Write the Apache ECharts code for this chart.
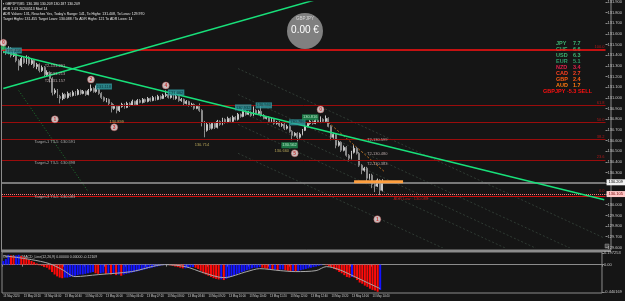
<!DOCTYPE html>
<html>
<head>
<meta charset="utf-8">
<script src="https://cdn.jsdelivr.net/npm/echarts@6/dist/echarts.min.js"></script>
<style>
html, body { margin: 0; padding: 0; background: #151515; }
#chart { width: 625px; height: 301px; }
</style>
</head>
<body>
<div id="chart"></div>
<script>
// GBPJPY M5 candles: [open, close, low, high]
const candles = [
  [131.473,131.445,131.420,131.500],[131.445,131.426,131.405,131.465],[131.426,131.463,131.410,131.485],
  [131.463,131.398,131.380,131.478],[131.398,131.417,131.385,131.440],[131.417,131.351,131.335,131.430],
  [131.351,131.305,131.258,131.365],[131.305,131.370,131.290,131.385],[131.370,131.333,131.320,131.390],
  [131.333,131.379,131.320,131.400],[131.379,131.323,131.305,131.392],[131.323,131.351,131.310,131.370],
  [131.351,131.295,131.280,131.365],[131.295,131.314,131.270,131.330],[131.314,131.258,131.240,131.325],
  [131.258,131.286,131.245,131.305],[131.286,131.220,131.200,131.300],[131.220,131.239,131.205,131.260],
  [131.239,131.183,131.146,131.250],[131.183,131.052,131.024,131.195],[131.052,131.071,131.035,131.090],
  [131.071,131.015,131.000,131.085],[131.015,130.996,130.949,131.030],[130.996,131.033,130.980,131.050],
  [131.033,131.005,130.990,131.045],[131.005,131.043,130.995,131.060],[131.043,131.024,131.010,131.055],
  [131.024,131.052,131.015,131.070],[131.052,131.033,131.020,131.065],[131.033,131.071,131.025,131.085],
  [131.071,131.043,131.030,131.080],[131.043,131.062,131.035,131.075],[131.062,131.033,131.020,131.070],
  [131.033,131.071,131.025,131.085],[131.071,131.090,131.060,131.127],[131.090,131.062,131.050,131.100],
  [131.062,131.080,131.050,131.118],[131.080,131.043,131.030,131.095],[131.043,131.005,130.990,131.055],
  [131.005,130.977,130.965,131.015],[130.977,130.987,130.960,131.000],[130.987,130.949,130.935,130.995],
  [130.949,130.903,130.865,130.960],[130.903,130.921,130.890,130.940],[130.921,130.884,130.856,130.930],
  [130.884,130.921,130.870,130.935],[130.921,130.940,130.910,130.955],[130.940,130.912,130.900,130.950],
  [130.912,130.949,130.905,130.965],[130.949,130.931,130.920,130.960],[130.931,130.968,130.925,130.985],
  [130.968,130.940,130.930,130.975],[130.940,130.977,130.935,130.990],[130.977,130.959,130.950,130.990],
  [130.959,130.987,130.950,131.000],[130.987,130.968,130.955,130.995],[130.968,130.996,130.960,131.010],
  [130.996,130.977,130.965,131.005],[130.977,131.005,130.970,131.020],[131.005,130.987,130.975,131.015],
  [130.987,131.015,130.980,131.030],[131.015,130.996,130.985,131.025],[130.996,131.024,130.990,131.040],
  [131.024,131.033,131.010,131.071],[131.033,131.005,130.995,131.045],[131.005,131.024,130.995,131.040],
  [131.024,130.996,130.985,131.035],[130.996,131.015,130.985,131.052],[131.015,130.977,130.965,131.025],
  [130.977,130.987,130.965,131.000],[130.987,130.949,130.935,130.995],[130.949,130.968,130.940,130.980],
  [130.968,130.931,130.920,130.975],[130.931,130.940,130.920,130.955],[130.940,130.903,130.890,130.950],
  [130.903,130.921,130.895,130.935],[130.921,130.884,130.870,130.949],[130.884,130.772,130.734,130.895],
  [130.772,130.697,130.632,130.785],[130.697,130.753,130.685,130.770],[130.753,130.716,130.700,130.765],
  [130.716,130.762,130.705,130.775],[130.762,130.725,130.710,130.770],[130.725,130.781,130.715,130.795],
  [130.781,130.753,130.740,130.790],[130.753,130.800,130.745,130.815],[130.800,130.772,130.760,130.810],
  [130.772,130.809,130.765,130.825],[130.809,130.781,130.770,130.820],[130.781,130.819,130.775,130.835],
  [130.819,130.800,130.790,130.830],[130.800,130.847,130.790,130.860],[130.847,130.828,130.815,130.855],
  [130.828,130.875,130.820,130.912],[130.875,130.847,130.835,130.885],[130.847,130.865,130.840,130.880],
  [130.865,130.837,130.825,130.875],[130.837,130.884,130.830,130.921],[130.884,130.856,130.845,130.895],
  [130.856,130.875,130.850,130.890],[130.875,130.837,130.825,130.931],[130.837,130.809,130.800,130.850],
  [130.809,130.819,130.800,130.830],[130.819,130.781,130.770,130.830],[130.781,130.800,130.775,130.815],
  [130.800,130.762,130.750,130.810],[130.762,130.772,130.750,130.785],[130.772,130.744,130.730,130.785],
  [130.744,130.753,130.730,130.765],[130.753,130.716,130.700,130.765],[130.716,130.734,130.705,130.750],
  [130.734,130.688,130.675,130.745],[130.688,130.650,130.604,130.700],[130.650,130.669,130.640,130.680],
  [130.669,130.632,130.594,130.680],[130.632,130.660,130.620,130.675],[130.660,130.697,130.650,130.710],
  [130.697,130.734,130.690,130.750],[130.734,130.762,130.725,130.775],[130.762,130.781,130.750,130.795],
  [130.781,130.762,130.750,130.790],[130.762,130.791,130.755,130.805],[130.791,130.772,130.765,130.800],
  [130.772,130.800,130.765,130.828],[130.800,130.781,130.770,130.810],[130.781,130.809,130.775,130.837],
  [130.809,130.734,130.725,130.820],[130.734,130.632,130.604,130.745],[130.632,130.660,130.620,130.675],
  [130.660,130.557,130.529,130.670],[130.557,130.585,130.545,130.600],[130.585,130.510,130.495,130.595],
  [130.510,130.538,130.500,130.555],[130.538,130.463,130.450,130.550],[130.463,130.435,130.407,130.475],
  [130.435,130.491,130.425,130.505],[130.491,130.529,130.480,130.557],[130.529,130.482,130.470,130.540],
  [130.482,130.370,130.355,130.495],[130.370,130.323,130.286,130.380],[130.323,130.342,130.310,130.355],
  [130.342,130.248,130.220,130.355],[130.248,130.277,130.235,130.290],[130.277,130.192,130.155,130.290],
  [130.192,130.174,130.118,130.205],[130.174,130.230,130.165,130.245],[130.230,130.136,130.090,130.240],
  [130.136,130.209,130.125,130.239]
]

// OsMA histogram, one value per candle
const osma = [
  0.06,0.09,0.16,0.15,0.14,0.15,0.16,0.14,0.12,0.10,
  0.08,0.06,0.04,0.02,-0.01,-0.02,-0.04,-0.05,-0.08,-0.12,
  -0.16,-0.19,-0.21,-0.22,-0.21,-0.21,-0.20,-0.19,-0.18,-0.17,
  -0.16,-0.16,-0.15,-0.14,-0.13,-0.12,-0.14,-0.15,-0.14,-0.13,
  -0.15,-0.14,-0.16,-0.15,-0.17,-0.16,-0.18,-0.16,-0.15,-0.14,
  -0.13,-0.12,-0.11,-0.10,-0.09,-0.08,-0.07,-0.06,-0.05,-0.04,
  -0.03,-0.02,-0.01,0.01,0.00,-0.01,-0.02,-0.03,-0.04,-0.05,
  -0.06,-0.06,-0.05,-0.04,-0.04,-0.05,-0.07,-0.10,-0.14,-0.16,
  -0.18,-0.20,-0.22,-0.23,-0.24,-0.24,-0.25,-0.23,-0.21,-0.20,
  -0.18,-0.16,-0.14,-0.12,-0.11,-0.09,-0.08,-0.06,-0.05,-0.05,
  -0.04,-0.05,-0.06,-0.07,-0.07,-0.08,-0.08,-0.09,-0.08,-0.08,
  -0.09,-0.10,-0.11,-0.10,-0.11,-0.10,-0.09,-0.08,-0.07,-0.06,
  -0.05,-0.04,-0.03,-0.02,-0.01,0.00,-0.01,-0.03,-0.04,-0.07,
  -0.09,-0.12,-0.14,-0.17,-0.20,-0.21,-0.20,-0.21,-0.25,-0.29,
  -0.31,-0.34,-0.36,-0.39,-0.41,-0.42,-0.44,-0.41
]
// signal line [bar, value]
const osmaSignal = [
  [0,0.146],[11,0.081],[18,0.016],[23,-0.081],[28,-0.194],[37,-0.162],[50,-0.113],
  [63,0.0],[71,-0.032],[78,-0.130],[86,-0.211],[95,-0.113],[100,-0.065],[108,-0.097],
  [114,-0.113],[122,-0.097],[126,-0.032],[131,-0.081],[137,-0.194],[142,-0.292],[147,-0.389]
]

// time labels, one every 8 bars
const tickLabels = ['13 May 2020','13 May 03:20','13 May 04:00','13 May 04:40','13 May 05:20',
  '13 May 06:00','13 May 06:40','13 May 07:20','13 May 08:00','13 May 08:40','13 May 09:20',
  '13 May 10:00','13 May 10:40','13 May 11:20','13 May 12:00','13 May 12:40','13 May 13:20',
  '13 May 14:00','13 May 14:40']
const subTickValues = [0.19, 0, -0.44]
const subTickLabels = ['0.197253', '0.00', '-0.440169']

// fibonacci levels [label, price]
const fibLevels = [['100.0',131.447],['61.8',130.931],['50.0',130.772],['38.2',130.613],['23.6',130.417]]
const fibZero = 130.105
const target3 = 130.083
const lastPrice = 130.209

// trend lines [bar, price]
const greenUp = [[0,131.089],[125,131.948]]
const greenDown = [[0,131.434],[233,130.047]]
const dottedGreen = [[6,131.07],[33,130.12]]
const dottedOrange = [[126,130.772],[148,130.305]]
const orangeBar = [[136,130.216],[155,130.216]]
const channelStart = [131.276, 131.033, 130.884, 130.753, 130.482]
const channelEnd = [129.688, 129.445, 129.296, 129.165, 128.894]

// text annotations [bar, price, text]
const waveLabels = [[0,131.519,'0'],[20,130.800,'1'],[34,131.174,'2'],[43,130.725,'3'],
  [63,131.118,'4'],[113,130.482,'5'],[123,130.893,'0'],[145,129.865,'1']]
const tealBoxes = [[4,131.445,'131.458'],[39,131.108,'131.118'],[67,131.052,'131.062'],
  [93,130.912,'130.932'],[101,130.931,'130.940'],[114,130.772,'130.786']]
const greenBoxes = [[119,130.819,'130.816'],[111,130.557,'130.562']]
const yellowLabels = [[44,130.772,'130.899'],[77,130.557,'130.714'],[108,130.501,'130.660']]
const t2Labels = [[20,131.305,'T2-131.291'],[20,131.230,'T2-131.213'],[20,131.164,'T2-131.157'],
  [145,130.604,'T2-130.599'],[145,130.473,'T2-130.480'],[145,130.379,'T2-130.383']]
const targetLabels = [[20,130.585,'Target-1 T3-5 :130.591'],[20,130.390,'Target-2 T3-5 :130.398'],
  [20,130.071,'Target-3 T3-5 :130.083']]
const adrLabel = [[158,130.052,'ADR Low : 130.088']]

// currency strength panel
const strengthNames = ['JPY','CHF','USD','EUR','NZD','CAD','GBP','AUD']
const strengthValues = [7.7, 6.6, 6.3, 5.1, 3.4, 2.7, 2.4, 1.7]
const strengthColors = ['#3cb371','#3cb371','#3cb371','#2e9e6a','#e0204a','#ff4020','#ff5a10','#ff7a10']

const headerLines = [
  '\u25aa GBPJPY,M5  130.180 130.209 130.187 130.209',
  'ADR 1.03 20200513 Mod 14',
  "ADR Values: 131, Reaches Yes, Today's Range: 141, To Highs: 131.408, To Lows: 129.970",
  'Target Highs: 131.455 Target Lows: 130.088 / To ADR Highs: 121 To ADR Lows: 14'
]

const FONT = 'Liberation Sans, Arial, sans-serif'
const BARS = 234
const cats = []
for (let i = 0; i < BARS; i++) cats.push(i)

const chart = echarts.init(document.getElementById('chart'))

// label-only scatter layer
const textLayer = (rows, label, z) => ({
  type: 'scatter', xAxisIndex: 0, yAxisIndex: 0, symbolSize: 1, silent: true, z: z || 6,
  itemStyle: { color: 'rgba(0,0,0,0)' },
  label: Object.assign({ show: true, position: 'inside', fontFamily: FONT }, label),
  data: rows.map(r => ({ value: [r[0], r[1]], label: { formatter: r[2] } }))
})

const lineSeries = (data, color, width, type, z) => ({
  type: 'line', xAxisIndex: 0, yAxisIndex: 0, data: data, symbol: 'none', silent: true,
  clip: true, z: z || 3, lineStyle: { color: color, width: width, type: type }
})

const tickFilter = idx => idx % 8 === 0 && idx / 8 < tickLabels.length

const series = [
  {
    type: 'candlestick', xAxisIndex: 0, yAxisIndex: 0, data: candles, barWidth: 1.4, z: 4,
    itemStyle: { color: '#a8a8a8', color0: '#6c6c6c', borderColor: '#c8c8c8', borderColor0: '#8a8a8a', borderWidth: 1 },
    markLine: {
      symbol: ['none', 'none'], silent: true, animation: false,
      data: fibLevels.map((f, k) => ({
        yAxis: f[1],
        lineStyle: { color: k === 0 ? '#ff1010' : '#9a0c0c', width: k === 0 ? 1.5 : 1, type: 'solid' },
        label: { show: true, position: 'insideEndTop', formatter: f[0], color: '#b01818', fontSize: 4, distance: 1 }
      })).concat([
        { yAxis: lastPrice, lineStyle: { color: '#9a9a9a', width: 1.5, type: 'solid' },
          label: { show: true, position: 'end', formatter: lastPrice.toFixed(3), backgroundColor: '#f2f2f2', color: '#000', fontSize: 4, padding: [1, 2], distance: 1 } },
        { yAxis: fibZero, lineStyle: { color: '#ff7070', width: 1, type: [1, 1] },
          label: { show: true, position: 'insideEndTop', formatter: '0.0', color: '#b01818', fontSize: 4, distance: 1 } },
        { yAxis: fibZero, lineStyle: { width: 0 },
          label: { show: true, position: 'end', formatter: fibZero.toFixed(3), backgroundColor: '#ffc8c8', color: '#700000', fontSize: 4, padding: [1, 2], distance: 1 } },
        { yAxis: target3, lineStyle: { color: '#d01010', width: 1, type: 'solid' }, label: { show: false } }
      ])
    }
  },
  lineSeries(greenUp, '#18e07a', 1.5, 'solid', 5),
  lineSeries(greenDown, '#18e07a', 1.5, 'solid', 5),
  lineSeries(dottedGreen, '#1f7a30', 1, [1, 2]),
  lineSeries(dottedOrange, '#c07020', 1, [2, 2]),
  lineSeries(orangeBar, '#ffa040', 3, 'solid', 5)
]
channelStart.forEach((p, k) => {
  series.push(lineSeries([[91, p], [233, channelEnd[k]]], '#2f3a33', 1, [2, 2], 2))
})
series.push(
  { type: 'scatter', xAxisIndex: 0, yAxisIndex: 0, symbolSize: 5, silent: true, z: 7,
    itemStyle: { color: '#20c060' }, data: [[0, 131.473]] },
  { type: 'scatter', xAxisIndex: 0, yAxisIndex: 0, symbolSize: 7, silent: true, z: 7,
    itemStyle: { color: '#f4eaea', borderColor: '#c04848', borderWidth: 0.5 },
    label: { show: true, position: 'inside', color: '#d01010', fontSize: 5, fontWeight: 'bold', fontFamily: FONT },
    data: waveLabels.map(r => ({ value: [r[0], r[1]], label: { formatter: r[2] } })) },
  textLayer(tealBoxes, { color: '#06282c', fontSize: 4, backgroundColor: '#2f9ea4', padding: [1, 1] }),
  textLayer(greenBoxes, { color: '#d8ffe0', fontSize: 4, backgroundColor: '#1f8f52', padding: [1, 1] }),
  textLayer(yellowLabels, { color: '#d8c468', fontSize: 4 }),
  textLayer(t2Labels, { color: '#d8c4c4', fontSize: 4 }),
  textLayer(targetLabels, { color: '#c8c8c8', fontSize: 4 }),
  textLayer(adrLabel, { color: '#e02020', fontSize: 4 }),
  {
    type: 'bar', xAxisIndex: 1, yAxisIndex: 1, barCategoryGap: '22%', silent: true,
    data: osma.map((v, i) => ({
      value: v,
      itemStyle: { color: (i === 0 || v >= osma[i - 1]) ? '#1414ff' : '#ff0a0a' }
    }))
  },
  { type: 'line', xAxisIndex: 1, yAxisIndex: 1, data: osmaSignal, symbol: 'none', smooth: 0.3,
    silent: true, z: 5, lineStyle: { color: '#a8a8a8', width: 1 } }
)

const graphic = [
  { type: 'rect', shape: { x: 1.5, y: -1, width: 609.5, height: 251 }, silent: true, z: -1,
    style: { fill: 'none', stroke: '#8c8c8c', lineWidth: 1 } },
  { type: 'line', shape: { x1: 1, y1: 251, x2: 611, y2: 251 }, silent: true,
    style: { stroke: '#8c8c8c', lineWidth: 2 } },
  { type: 'circle', shape: { cx: 305, cy: 31, r: 18 }, silent: true, style: { fill: '#808080' } },
  { type: 'text', x: 305, y: 19, silent: true,
    style: { text: 'GBPJPY', fill: '#d8d8d8', fontSize: 4.5, fontFamily: FONT, align: 'center', verticalAlign: 'middle' } },
  { type: 'text', x: 305, y: 30, silent: true,
    style: { text: '0.00 \u20ac', fill: '#ffffff', fontSize: 10, fontFamily: FONT, align: 'center', verticalAlign: 'middle' } },
  { type: 'text', x: 3, y: 257, silent: true,
    style: { text: 'OsmaTrend MACD_Line(12,26,9) 0.00000 0.00000 -0.12109', fill: '#c8c8c8', fontSize: 3.5, fontFamily: FONT, verticalAlign: 'middle' } },
  { type: 'rect', shape: { x: 605, y: 244, width: 4, height: 4 }, silent: true,
    style: { fill: '#505050', stroke: '#909090', lineWidth: 0.5 } },
  { type: 'text', x: 592, y: 91, silent: true,
    style: { text: 'GBPJPY -5.3 SELL', fill: '#ff1010', fontSize: 5.5, fontWeight: 'bold', fontFamily: FONT, align: 'right', verticalAlign: 'middle' } }
]
headerLines.forEach((t, k) => {
  graphic.push({ type: 'text', x: 3, y: 4 + k * 5, silent: true,
    style: { text: t, fill: '#e6e6e6', fontSize: 3.5, fontFamily: FONT, verticalAlign: 'middle' } })
})
strengthNames.forEach((n, k) => {
  graphic.push({ type: 'text', x: 556, y: 43.3 + k * 6, silent: true,
    style: { text: n, fill: strengthColors[k], fontSize: 5.5, fontWeight: 'bold', fontFamily: FONT, verticalAlign: 'middle' } })
  graphic.push({ type: 'text', x: 573, y: 43.3 + k * 6, silent: true,
    style: { text: strengthValues[k].toFixed(1), fill: strengthColors[k], fontSize: 5.5, fontWeight: 'bold', fontFamily: FONT, verticalAlign: 'middle' } })
})

const option = {
  animation: false,
  backgroundColor: '#151515',
  textStyle: { fontFamily: FONT },
  grid: [
    { left: 2, right: 14, top: 1.3, height: 246.1 },
    { left: 2, right: 14, top: 252, height: 41, show: true, borderColor: '#8c8c8c', borderWidth: 1 }
  ],
  xAxis: [
    { type: 'category', gridIndex: 0, data: cats, show: false, boundaryGap: true },
    { type: 'category', gridIndex: 1, data: cats, boundaryGap: true,
      axisLine: { lineStyle: { color: '#8c8c8c' } },
      axisTick: { show: true, interval: tickFilter, length: 2, lineStyle: { color: '#8c8c8c' } },
      axisLabel: { interval: tickFilter, formatter: (v, idx) => tickLabels[idx / 8] || '',
        color: '#d0d0d0', fontSize: 2.8, margin: 2, align: 'left' } }
  ],
  yAxis: [
    { type: 'value', gridIndex: 0, position: 'right', min: 129.6, max: 131.9, interval: 0.1,
      splitLine: { show: false }, axisLine: { show: false },
      axisTick: { show: true, length: 2, lineStyle: { color: '#8c8c8c' } },
      axisLabel: { color: '#c8c8c8', fontSize: 4, margin: 2, formatter: v => v.toFixed(3) } },
    { type: 'value', gridIndex: 1, position: 'right', min: -0.46, max: 0.205,
      splitLine: { show: false }, axisLine: { show: false },
      axisTick: { show: true, length: 2, customValues: subTickValues, lineStyle: { color: '#8c8c8c' } },
      axisLabel: { color: '#c8c8c8', fontSize: 4, margin: 2, customValues: subTickValues,
        formatter: v => subTickLabels[subTickValues.findIndex(s => Math.abs(s - v) < 1e-6)] || '' } }
  ],
  series: series,
  graphic: graphic
}

chart.setOption(option)
</script>
</body>
</html>
